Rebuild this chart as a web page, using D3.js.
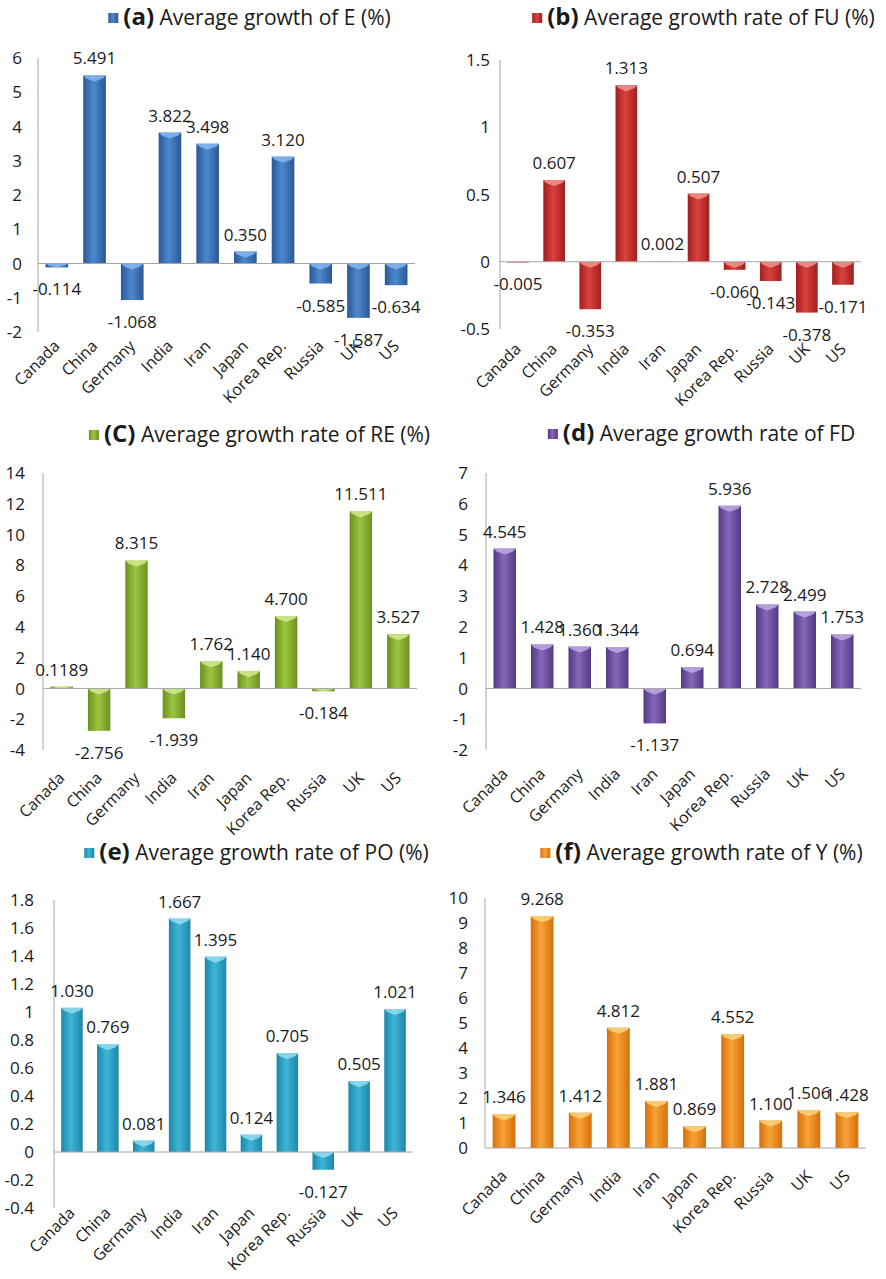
<!DOCTYPE html>
<html>
<head>
<meta charset="utf-8">
<script src="https://cdn.jsdelivr.net/npm/d3@7"></script>
<style>
  body { margin: 0; background: #fff; }
  svg { display: block; }
  text { font-family: "Open Sans", Lato, sans-serif; fill: #1a1a1a; }
</style>
</head>
<body>
<svg id="chart" width="886" height="1279"></svg>
<script>
// Countries on every panel
const countries = ["Canada", "China", "Germany", "India", "Iran", "Japan", "Korea Rep.", "Russia", "UK", "US"];

// Average growth values
const growthE  = [-0.114, 5.491, -1.068, 3.822, 3.498, 0.350, 3.120, -0.585, -1.587, -0.634];
const growthFU = [-0.005, 0.607, -0.353, 1.313, 0.002, 0.507, -0.060, -0.143, -0.378, -0.171];
const growthRE = [0.1189, -2.756, 8.315, -1.939, 1.762, 1.140, 4.700, -0.184, 11.511, 3.527];
const growthFD = [4.545, 1.428, 1.360, 1.344, -1.137, 0.694, 5.936, 2.728, 2.499, 1.753];
const growthPO = [1.030, 0.769, 0.081, 1.667, 1.395, 0.124, 0.705, -0.127, 0.505, 1.021];
const growthY  = [1.346, 9.268, 1.412, 4.812, 1.881, 0.869, 4.552, 1.100, 1.506, 1.428];

// Y tick labels for each panel
const ticksE  = [-2, -1, 0, 1, 2, 3, 4, 5, 6];
const ticksFU = [-0.5, 0, 0.5, 1, 1.5];
const ticksRE = [-4, -2, 0, 2, 4, 6, 8, 10, 12, 14];
const ticksFD = [-2, -1, 0, 1, 2, 3, 4, 5, 6, 7];
const ticksPO = [-0.4, -0.2, 0, 0.2, 0.4, 0.6, 0.8, 1, 1.2, 1.4, 1.6, 1.8];
const ticksY  = [0, 1, 2, 3, 4, 5, 6, 7, 8, 9, 10];

// Panel titles
const titleTags  = ["(a)", "(b)", "(C)", "(d)", "(e)", "(f)"];
const titleTexts = [
  "Average growth of E (%)",
  "Average growth rate of FU (%)",
  "Average growth rate of RE (%)",
  "Average growth rate of FD",
  "Average growth rate of PO (%)",
  "Average growth rate of Y (%)"
];

// Layout + colours per panel (plot box, title centre/baseline, tick gap, category label offset)
const panels = [
  { values: growthE,  ticks: ticksE,  x0: 38,  x1: 415, y0: 58,  y1: 332,  tx: 257, ty: 25,  gap: 16, catOff: 11, dark: "#2b5896", mid: "#4d88cf", cap: "#86b6ee" },
  { values: growthFU, ticks: ticksFU, x0: 500, x1: 861, y0: 60,  y1: 329,  tx: 711, ty: 25,  gap: 10, catOff: 17, dark: "#a11f1e", mid: "#d9423e", cap: "#f39490" },
  { values: growthRE, ticks: ticksRE, x0: 43,  x1: 417, y0: 473, y1: 750,  tx: 267, ty: 442, gap: 18, catOff: 25, dark: "#6b9020", mid: "#9cc63f", cap: "#d2ea90" },
  { values: growthFD, ticks: ticksFD, x0: 486, x1: 861, y0: 473, y1: 750,  tx: 709, ty: 441, gap: 18, catOff: 21, dark: "#533a82", mid: "#8567bb", cap: "#bdaae4" },
  { values: growthPO, ticks: ticksPO, x0: 54,  x1: 413, y0: 900, y1: 1208, tx: 264, ty: 860, gap: 20, catOff: 2,  dark: "#1e87a8", mid: "#3db6d8", cap: "#94dcf0" },
  { values: growthY,  ticks: ticksY,  x0: 485, x1: 866, y0: 898, y1: 1148, tx: 709, ty: 860, gap: 17, catOff: 25, dark: "#d7700c", mid: "#f8a236", cap: "#fed37e" }
];

const svg = d3.select("#chart");
const defs = svg.append("defs");

// label text: at least 3 decimals, keep extra digits when present (0.1189)
function labelText(v) {
  const s = String(Math.abs(v));
  const dec = s.includes(".") ? s.split(".")[1].length : 0;
  return v.toFixed(Math.max(3, dec));
}

panels.forEach((p, i) => {
  // horizontal gradient for the rounded "cylinder" look
  const grad = defs.append("linearGradient")
    .attr("id", "bar" + i)
    .attr("x1", "0%").attr("x2", "100%").attr("y1", "0%").attr("y2", "0%");
  grad.append("stop").attr("offset", "0%").attr("stop-color", p.dark);
  grad.append("stop").attr("offset", "45%").attr("stop-color", p.mid);
  grad.append("stop").attr("offset", "100%").attr("stop-color", p.dark);

  const x = d3.scaleBand()
    .domain(countries)
    .range([p.x0, p.x1])
    .paddingInner(0.4)
    .paddingOuter(0.2);

  const y = d3.scaleLinear()
    .domain([p.ticks[0], p.ticks[p.ticks.length - 1]])
    .range([p.y1, p.y0]);

  const g = svg.append("g");

  // y axis: plain line, labels only
  g.append("line")
    .attr("x1", p.x0).attr("x2", p.x0)
    .attr("y1", p.y0).attr("y2", p.y1)
    .attr("stroke", "#a6a6a6");

  g.selectAll(".tick")
    .data(p.ticks)
    .enter().append("text")
    .attr("x", p.x0 - p.gap)
    .attr("y", d => y(d))
    .attr("dy", "0.36em")
    .attr("text-anchor", "end")
    .style("font-size", "17px")
    .text(d => String(d));

  const data = countries.map((c, k) => ({ country: c, value: p.values[k] }));

  // bars
  const bars = g.selectAll(".bar")
    .data(data)
    .enter().append("g");

  bars.append("rect")
    .attr("x", d => x(d.country))
    .attr("y", d => y(Math.max(0, d.value)))
    .attr("width", x.bandwidth())
    .attr("height", d => Math.abs(y(d.value) - y(0)))
    .attr("fill", `url(#bar${i})`);

  // light bevel on the upper edge of each bar
  bars.append("path")
    .attr("d", d => {
      const bx = x(d.country), bw = x.bandwidth();
      const top = y(Math.max(0, d.value));
      const h = Math.min(6, Math.abs(y(d.value) - y(0)));
      return `M${bx},${top}L${bx + bw},${top}L${bx + bw - 3},${top + h * 0.5}L${bx + bw / 2},${top + h}L${bx + 3},${top + h * 0.5}Z`;
    })
    .attr("fill", p.cap)
    .attr("opacity", 0.85);

  // zero line on top of the bars
  g.append("line")
    .attr("x1", p.x0).attr("x2", p.x1)
    .attr("y1", y(0)).attr("y2", y(0))
    .attr("stroke", "#a6a6a6");

  // value labels
  g.selectAll(".val")
    .data(data)
    .enter().append("text")
    .attr("x", d => x(d.country) + x.bandwidth() / 2)
    .attr("y", d => d.value >= 0 ? y(d.value) - 11 : y(d.value) + 28)
    .attr("text-anchor", "middle")
    .style("font-size", "17px")
    .text(d => labelText(d.value));

  // rotated category labels
  g.selectAll(".cat")
    .data(countries)
    .enter().append("text")
    .attr("transform", d => `translate(${x(d) + x.bandwidth() / 2},${p.y1 + p.catOff}) rotate(-45)`)
    .attr("text-anchor", "end")
    .attr("dy", "0.35em")
    .style("font-size", "16px")
    .text(d => d);

  // title with a small legend square
  const title = g.append("text")
    .attr("x", p.tx)
    .attr("y", p.ty)
    .attr("text-anchor", "middle");
  title.append("tspan")
    .style("font-size", "24px")
    .style("font-weight", "bold")
    .text(titleTags[i]);
  title.append("tspan")
    .style("font-size", "21px")
    .text(" " + titleTexts[i]);

  const bb = title.node().getBBox();
  g.append("rect")
    .attr("x", bb.x - 15)
    .attr("y", p.ty - 12)
    .attr("width", 10)
    .attr("height", 10)
    .attr("fill", `url(#bar${i})`);
});
</script>
</body>
</html>
